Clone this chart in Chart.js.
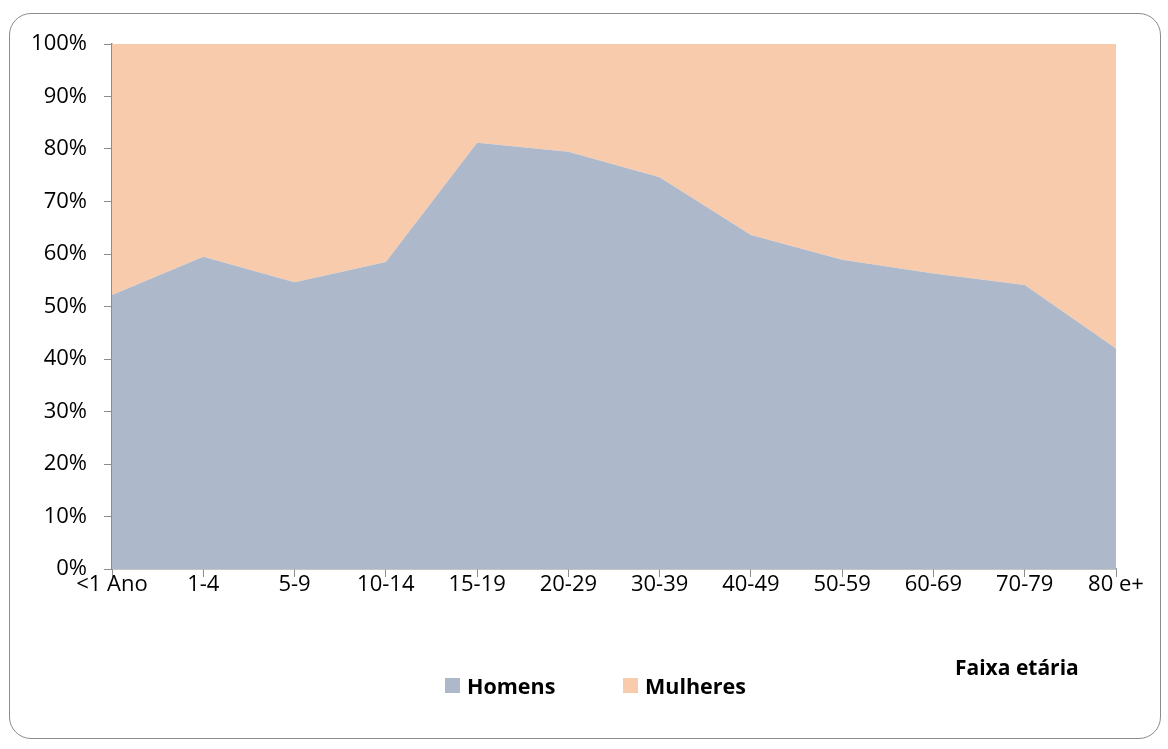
<!DOCTYPE html>
<html lang="pt">
<head>
  <meta charset="UTF-8">
  <title>Faixa etária</title>
  <script src="https://cdn.jsdelivr.net/npm/chart.js"></script>
  <style>
    body {
      margin: 0;
      width: 1168px;
      height: 749px;
      background: #fff;
      font-family: 'Open Sans', sans-serif;
      position: relative;
      overflow: hidden;
    }
    .frame {
      position: absolute;
      left: 9px;
      top: 13px;
      width: 1150px;
      height: 724px;
      border: 1.5px solid #8c8c8c;
      border-radius: 22px;
    }
    #chartWrap {
      position: absolute;
      left: 0;
      top: 0;
      width: 1168px;
      height: 749px;
    }
    .legend {
      position: absolute;
      top: 671px;
      font-size: 21.5px;
      font-weight: 700;
      color: #000;
      display: flex;
      align-items: center;
    }
    .legend span.box {
      display: inline-block;
      width: 15px;
      height: 15px;
      margin-right: 7px;
    }
    .axis-title {
      position: absolute;
      left: 955px;
      top: 653px;
      font-size: 21px;
      font-weight: 700;
    }
  </style>
</head>
<body>
  <div class="frame"></div>
  <div id="chartWrap"><canvas id="faixaChart"></canvas></div>

  <div class="legend" style="left:445px"><span class="box" style="background:#adb9ca"></span>Homens</div>
  <div class="legend" style="left:623px"><span class="box" style="background:#f8cbad"></span>Mulheres</div>
  <div class="axis-title">Faixa etária</div>

  <script>
    // age groups
    const categories = ['<1 Ano', '1-4', '5-9', '10-14', '15-19', '20-29', '30-39', '40-49', '50-59', '60-69', '70-79', '80 e+'];
    // share (%) per group
    const homens   = [52.2, 59.5, 54.6, 58.5, 81.2, 79.5, 74.6, 63.6, 58.9, 56.3, 54.1, 42.0];
    const mulheres = [47.8, 40.5, 45.4, 41.5, 18.8, 20.5, 25.4, 36.4, 41.1, 43.7, 45.9, 58.0];
    const yTicks = [0, 10, 20, 30, 40, 50, 60, 70, 80, 90, 100];

    const tickFont = { family: "'Open Sans', sans-serif", size: 22 };

    const ctx = document.getElementById('faixaChart').getContext('2d');
    new Chart(ctx, {
      type: 'line',
      data: {
        labels: categories,
        datasets: [
          {
            label: 'Homens',
            data: homens,
            backgroundColor: '#adb9ca',
            borderWidth: 0,
            pointRadius: 0,
            fill: 'origin',
            tension: 0
          },
          {
            label: 'Mulheres',
            data: mulheres,
            backgroundColor: '#f8cbad',
            borderWidth: 0,
            pointRadius: 0,
            fill: '-1',
            tension: 0
          }
        ]
      },
      options: {
        responsive: true,
        maintainAspectRatio: false,
        animation: false,
        layout: { padding: { left: 12, right: 52, top: 44, bottom: 0 } },
        plugins: {
          legend: { display: false },
          tooltip: { enabled: false }
        },
        scales: {
          x: {
            offset: false,
            grid: { drawOnChartArea: false, drawTicks: true, tickLength: 8, color: '#8c8c8c' },
            border: { color: '#8c8c8c', width: 1.5 },
            ticks: { color: '#000', font: tickFont, padding: -5, maxRotation: 0, autoSkip: false },
            afterFit: s => { s.height = 180; }
          },
          y: {
            stacked: true,
            min: 0,
            max: 100,
            afterBuildTicks: s => { s.ticks = yTicks.map(v => ({ value: v })); },
            grid: { drawOnChartArea: false, drawTicks: true, tickLength: 8, color: '#8c8c8c' },
            border: { color: '#8c8c8c', width: 1.5 },
            ticks: { color: '#000', font: tickFont, padding: 17, callback: v => v + '%' },
            afterFit: s => { s.width = 100; }
          }
        }
      }
    });
  </script>
</body>
</html>
